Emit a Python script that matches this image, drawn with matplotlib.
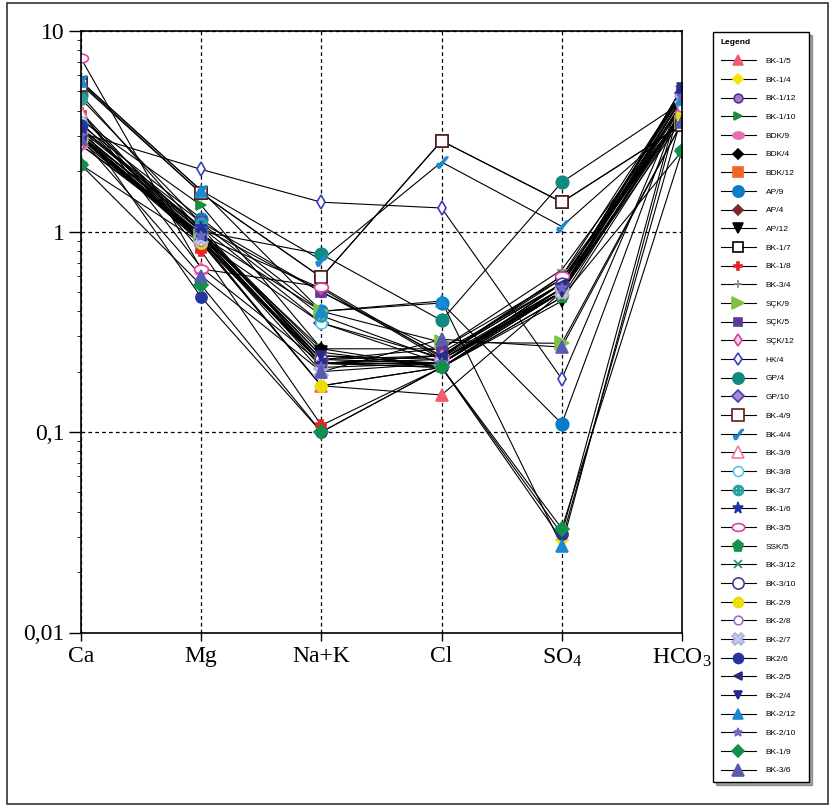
import numpy as np
import matplotlib
matplotlib.use("Agg")
import matplotlib.pyplot as plt
from matplotlib.patches import Rectangle
from matplotlib.lines import Line2D

# ions on the x axis (Schoeller diagram)
ions = ["Ca", "Mg", "Na+K", "Cl", r"$\mathregular{SO_4}$", r"$\mathregular{HCO_3}$"]

samples = ["BK-1/5", "BK-1/4", "BK-1/12", "BK-1/10", "BDK/9", "BDK/4", "BDK/12",
           "AP/9", "AP/4", "AP/12", "BK-1/7", "BK-1/8", "BK-3/4", "SÇK/9", "SÇK/5",
           "SÇK/12", "HK/4", "GP/4", "GP/10", "BK-4/9", "BK-4/4", "BK-3/9", "BK-3/8",
           "BK-3/7", "BK-1/6", "BK-3/5", "SSK/5", "BK-3/12", "BK-3/10", "BK-2/9",
           "BK-2/8", "BK-2/7", "BK2/6", "BK-2/5", "BK-2/4", "BK-2/12", "BK-2/10",
           "BK-1/9", "BK-3/6"]

# meq/l  Ca, Mg, Na+K, Cl, SO4, HCO3
ca   = [3.95, 3.0, 3.3, 3.6, 2.7, 2.95, 2.9, 3.4, 3.0, 3.1, 5.5, 3.9, 3.7, 2.8, 3.25,
        2.7, 3.1, 4.8, 3.0, 5.4, 5.6, 3.95, 3.5, 4.6, 3.2, 7.3, 2.15, 3.3, 3.0, 2.9,
        2.95, 3.0, 3.4, 3.0, 3.1, 5.6, 3.0, 2.15, 2.9]
mg   = [0.90, 0.88, 1.05, 1.35, 0.98, 0.95, 0.92, 1.16, 0.95, 1.0, 1.55, 0.80, 1.0, 0.95, 1.11,
        0.95, 2.04, 1.0, 1.05, 1.55, 1.6, 0.66, 0.90, 1.1, 1.05, 0.65, 0.88, 1.0, 0.90, 0.88,
        0.90, 0.92, 0.47, 0.95, 0.97, 1.6, 0.95, 0.54, 0.60]
nak  = [0.17, 0.17, 0.50, 0.26, 0.23, 0.26, 0.22, 0.40, 0.22, 0.25, 0.59, 0.108, 0.23, 0.40, 0.50,
        0.52, 1.40, 0.77, 0.35, 0.59, 0.72, 0.22, 0.35, 0.38, 0.22, 0.53, 0.22, 0.24, 0.23, 0.17,
        0.22, 0.20, 0.10, 0.22, 0.24, 0.40, 0.21, 0.10, 0.20]
cl   = [0.153, 0.21, 0.24, 0.21, 0.24, 0.26, 0.22, 0.44, 0.22, 0.21, 2.83, 0.21, 0.26, 0.28, 0.25,
        0.23, 1.31, 0.36, 0.22, 2.83, 2.22, 0.24, 0.235, 0.23, 0.21, 0.235, 0.21, 0.22, 0.22, 0.21,
        0.23, 0.22, 0.21, 0.24, 0.23, 0.45, 0.22, 0.21, 0.29]
so4  = [0.50, 0.029, 0.60, 0.52, 0.55, 0.58, 0.50, 0.11, 0.55, 0.45, 1.40, 0.47, 0.645, 0.277, 0.55,
        0.50, 0.184, 1.76, 0.55, 1.40, 1.06, 0.58, 0.52, 0.50, 0.50, 0.60, 0.47, 0.52, 0.55, 0.50,
        0.52, 0.50, 0.031, 0.55, 0.50, 0.027, 0.52, 0.033, 0.265]
hco3 = [3.9, 3.8, 5.0, 4.4, 3.9, 3.8, 3.6, 4.5, 3.9, 3.8, 3.4, 4.0, 4.2, 3.5, 4.9,
        4.0, 4.6, 4.4, 4.9, 3.4, 3.6, 3.9, 4.3, 4.4, 5.2, 3.9, 2.52, 4.6, 4.8, 3.8,
        4.2, 4.6, 5.0, 5.0, 5.2, 4.6, 4.7, 2.52, 3.5]

t = np.linspace(0, 2 * np.pi, 40)
ellipse = list(zip(1.6 * np.cos(t), np.sin(t)))

# marker, face colour, edge colour, size
styles = [
    ("^", "#f25c6e", "#f25c6e", 8), ("D", "#f7e400", "#f7e400", 6), ("o", "#9a80cc", "#5b2d9b", 7),
    (">", "#1e8c3c", "#1e8c3c", 7), (ellipse, "#e46fb2", "#e46fb2", 9), ("D", "black", "black", 6),
    ("s", "#f26522", "#f26522", 8), ("o", "#0a7cc8", "#0a7cc8", 9), ("D", "#7a2a2a", "#7a2a2a", 6),
    ("v", "black", "black", 8), ("s", "white", "black", 8), ("P", "#e8232a", "#e8232a", 7),
    ("+", "#888888", "#888888", 7), (">", "#7dc242", "#7dc242", 10), ("s", "#5a3a9a", "#5a3a9a", 7),
    ("d", "#f7d0e6", "#d0409a", 7), ("d", "white", "#3d3dbf", 7), ("o", "#0f8a80", "#0f8a80", 9),
    ("D", "#9d8fd8", "#4b3aa8", 7), ("s", "white", "#5a2020", 9), (r"$\checkmark$", "#1b8ad0", "#1b8ad0", 8),
    ("^", "white", "#f07aa0", 9), ("o", "white", "#55c5ee", 8), (r"$\oplus$", "#2aa0a0", "#2aa0a0", 8),
    ("*", "#2233aa", "#2233aa", 9), (ellipse, "white", "#e040a0", 10), ("p", "#17904a", "#17904a", 9),
    ("x", "#2a8a6a", "#2a8a6a", 6), ("o", "white", "#404090", 9), (r"$\oplus$", "#e8dc00", "#e8dc00", 8),
    ("o", "white", "#a070c0", 7), ("X", "#c8c8ee", "#b0b0e0", 10), ("o", "#2835a0", "#2835a0", 8),
    ("<", "#2a2a80", "#2a2a80", 7), ("v", "#2a2a90", "#2a2a90", 7), ("^", "#1a8ad0", "#1a8ad0", 8),
    ("*", "#6a6ac0", "#6a6ac0", 7), ("D", "#12904a", "#12904a", 7), ("^", "#5a5ab0", "#5a5ab0", 9),
]

plt.rcParams["font.family"] = ["Liberation Serif", "DejaVu Sans"]

fig = plt.figure(figsize=(8.33, 8.06), dpi=100)
ax = fig.add_axes([81 / 833, 1 - 632.5 / 806, 601 / 833, 601.5 / 806])

x = np.arange(len(ions))
handles = []
for i, name in enumerate(samples):
    vals = [ca[i], mg[i], nak[i], cl[i], so4[i], hco3[i]]
    m, fc, ec, ms = styles[i]
    ax.plot(x, vals, color="black", lw=0.8, zorder=2)
    ax.plot(x, vals, ls="none", marker=m, mfc=fc, mec=ec, ms=ms, mew=1.2, zorder=3)
    handles.append(Line2D([], [], color="black", lw=0.8, marker=m, mfc=fc, mec=ec,
                          ms=ms * 0.9, mew=1.2))

ax.set_yscale("log")
ax.set_ylim(0.01, 10)
ax.set_xlim(0, 5)
ax.set_yticks([0.01, 0.1, 1, 10])
ax.set_yticklabels(["0,01", "0,1", "1", "10"])
ax.set_xticks(x)
ax.set_xticklabels(ions)
ax.tick_params(axis="both", labelsize=17, direction="out", width=1)
ax.tick_params(axis="y", which="major", length=9, pad=3)
ax.tick_params(axis="y", which="minor", length=3)
ax.tick_params(axis="x", length=6, pad=4)
ax.grid(True, which="major", color="black", ls=(0, (3, 2.5)), lw=0.9)
for sp in ax.spines.values():
    sp.set_linewidth(1.2)
    sp.set_zorder(5)

leg = fig.legend(handles, samples, loc="upper left",
                 bbox_to_anchor=(713 / 833, 1 - 32 / 806 - 0.01, 96 / 833, 0.01), mode="expand",
                 borderaxespad=0, title="Legend", alignment="left", frameon=True,
                 fancybox=False, shadow=True, edgecolor="black", framealpha=1,
                 handlelength=4.2, handletextpad=1.2, labelspacing=1.3, borderpad=0.9,
                 prop={"family": "Liberation Sans", "size": 6},
                 title_fontproperties={"family": "Liberation Sans", "size": 6, "weight": "bold"})
leg.get_frame().set_linewidth(1)

fig.patches.append(Rectangle((7 / 833, 2 / 806), 821 / 833, 801 / 806, transform=fig.transFigure,
                             fill=False, edgecolor="#333333", lw=1.2))

fig.savefig("out.png", dpi=100)
